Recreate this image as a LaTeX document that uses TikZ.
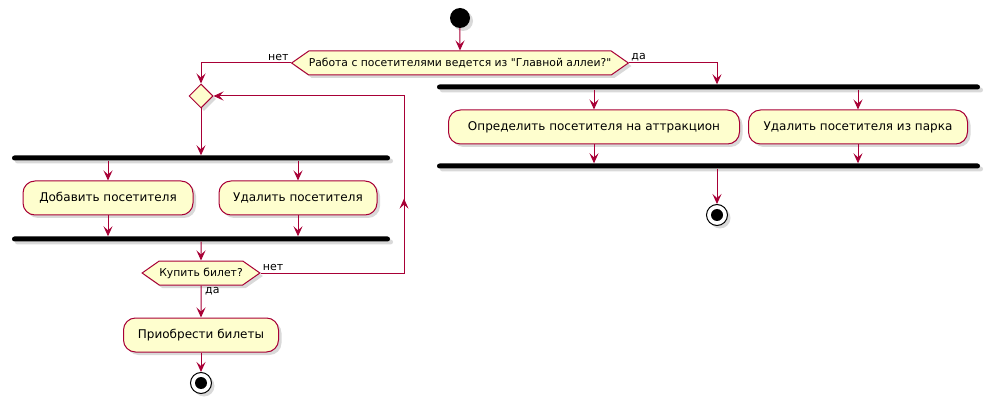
\documentclass[tikz,border=0pt]{standalone}
\usepackage{fontspec}
\setmainfont{DejaVu Sans}[Ligatures=TeXOff]
\usetikzlibrary{arrows.meta,shapes.symbols,shapes.geometric,shadows,calc}

\definecolor{umlred}{HTML}{A80036}
\definecolor{umlfill}{HTML}{FEFECE}

\tikzset{
	shade/.style={drop shadow={opacity=0.3,shadow xshift=3pt,shadow yshift=-3pt}},
	activity/.style={draw=umlred, fill=umlfill, line width=1pt, rounded corners=12pt,
		minimum height=34pt, inner xsep=8pt, font=\fontsize{12}{14}\selectfont, shade},
	decision/.style={signal, signal to=east and west, signal pointer angle=70,
		draw=umlred, fill=umlfill, line width=1pt, minimum height=24pt, inner xsep=0pt,
		inner ysep=2pt, font=\fontsize{10.8}{13}\selectfont, shade},
	merge/.style={diamond, draw=umlred, fill=umlfill, line width=1pt, minimum size=24pt,
		inner sep=0pt, shade},
	bar/.style={fill=black, rounded corners=2.5pt, minimum height=5pt, inner sep=0pt, shade},
	startnode/.style={circle, fill=black, minimum size=20pt, inner sep=0pt, shade},
	stopnode/.style={circle, draw=black, fill=white, line width=1pt, minimum size=21pt,
		inner sep=0pt, shade},
	guard/.style={font=\fontsize{11}{13}\selectfont, inner sep=1pt},
	flow/.style={umlred, line width=1pt, -{Stealth[length=10pt,width=9pt,inset=4pt]}},
	line/.style={umlred, line width=1pt}
}

\begin{document}
\begin{tikzpicture}[x=1pt, y=-1pt]
	
	\useasboundingbox (0,0) rectangle (997,409);
	
	
	\node[startnode] (start) at (460,18) {};
	\node[decision, minimum width=329pt] (d1) at (460,63) {Работа с посетителями ведется из "Главной аллеи?"};
	
	\node[guard, anchor=south east] (no1) at ($(d1.west)+(-1,-1)$) {нет};
	\node[guard, anchor=south west] (yes1) at ($(d1.east)+(1,-1)$) {да};
	
	
	
	\node[bar, minimum width=543pt] (fork1) at (708.5,87) {};
	\node[activity, minimum width=291pt] (act3) at (594,127) {Определить посетителя на аттракцион};
	\node[activity, minimum width=219pt] (act4) at (858,127) {Удалить посетителя из парка};
	\node[bar, minimum width=543pt] (join1) at (708.5,166) {};
	\node[stopnode] (stop1) at (717,215) {};
	\fill (stop1) circle (6pt);
	
	\draw[flow] (start) -- (d1);
	\draw[flow] (d1.east) -| (fork1.north -| stop1);
	\draw[flow] (fork1.south -| act3) -- (act3);
	\draw[flow] (fork1.south -| act4) -- (act4);
	\draw[flow] (act3) -- (join1.north -| act3);
	\draw[flow] (act4) -- (join1.north -| act4);
	\draw[flow] (join1.south -| stop1) -- (stop1);
	
	
	
	\node[merge] (loop) at (201,96) {};
	\node[bar, minimum width=378pt] (fork2) at (201,158) {};
	\node[activity, minimum width=170pt] (act1) at (108,198) {Добавить посетителя};
	\node[activity, minimum width=158pt] (act2) at (298,198) {Удалить посетителя};
	\node[bar, minimum width=378pt] (join2) at (201,239) {};
	\node[decision, minimum width=99pt] (d2) at (201,273) {Купить билет?};
	\node[activity, minimum width=155pt] (act5) at (201,335) {Приобрести билеты};
	\node[stopnode] (stop2) at (201,383) {};
	\fill (stop2) circle (6pt);
	
	\node[guard, anchor=south west] (no2) at ($(d2.east)+(1,-1)$) {нет};
	\node[guard, anchor=north west] (yes2) at ($(d2.south)+(3,1)$) {да};
	
	\coordinate (back) at (404,273);
	
	\draw[flow] (d1.west) -| (loop.north);
	\draw[flow] (loop.south) -- (fork2.north -| loop);
	\draw[flow] (fork2.south -| act1) -- (act1);
	\draw[flow] (fork2.south -| act2) -- (act2);
	\draw[flow] (act1) -- (join2.north -| act1);
	\draw[flow] (act2) -- (join2.north -| act2);
	\draw[flow] (join2.south -| d2) -- (d2);
	\draw[flow] (d2) -- (act5);
	\draw[flow] (act5) -- (stop2);
	
	\draw[flow] (d2.east) -- (back) |- (loop.east);
	\draw[flow] (back) -- ($(back)!0.42!(back |- loop)$);
	
\end{tikzpicture}
\end{document}
